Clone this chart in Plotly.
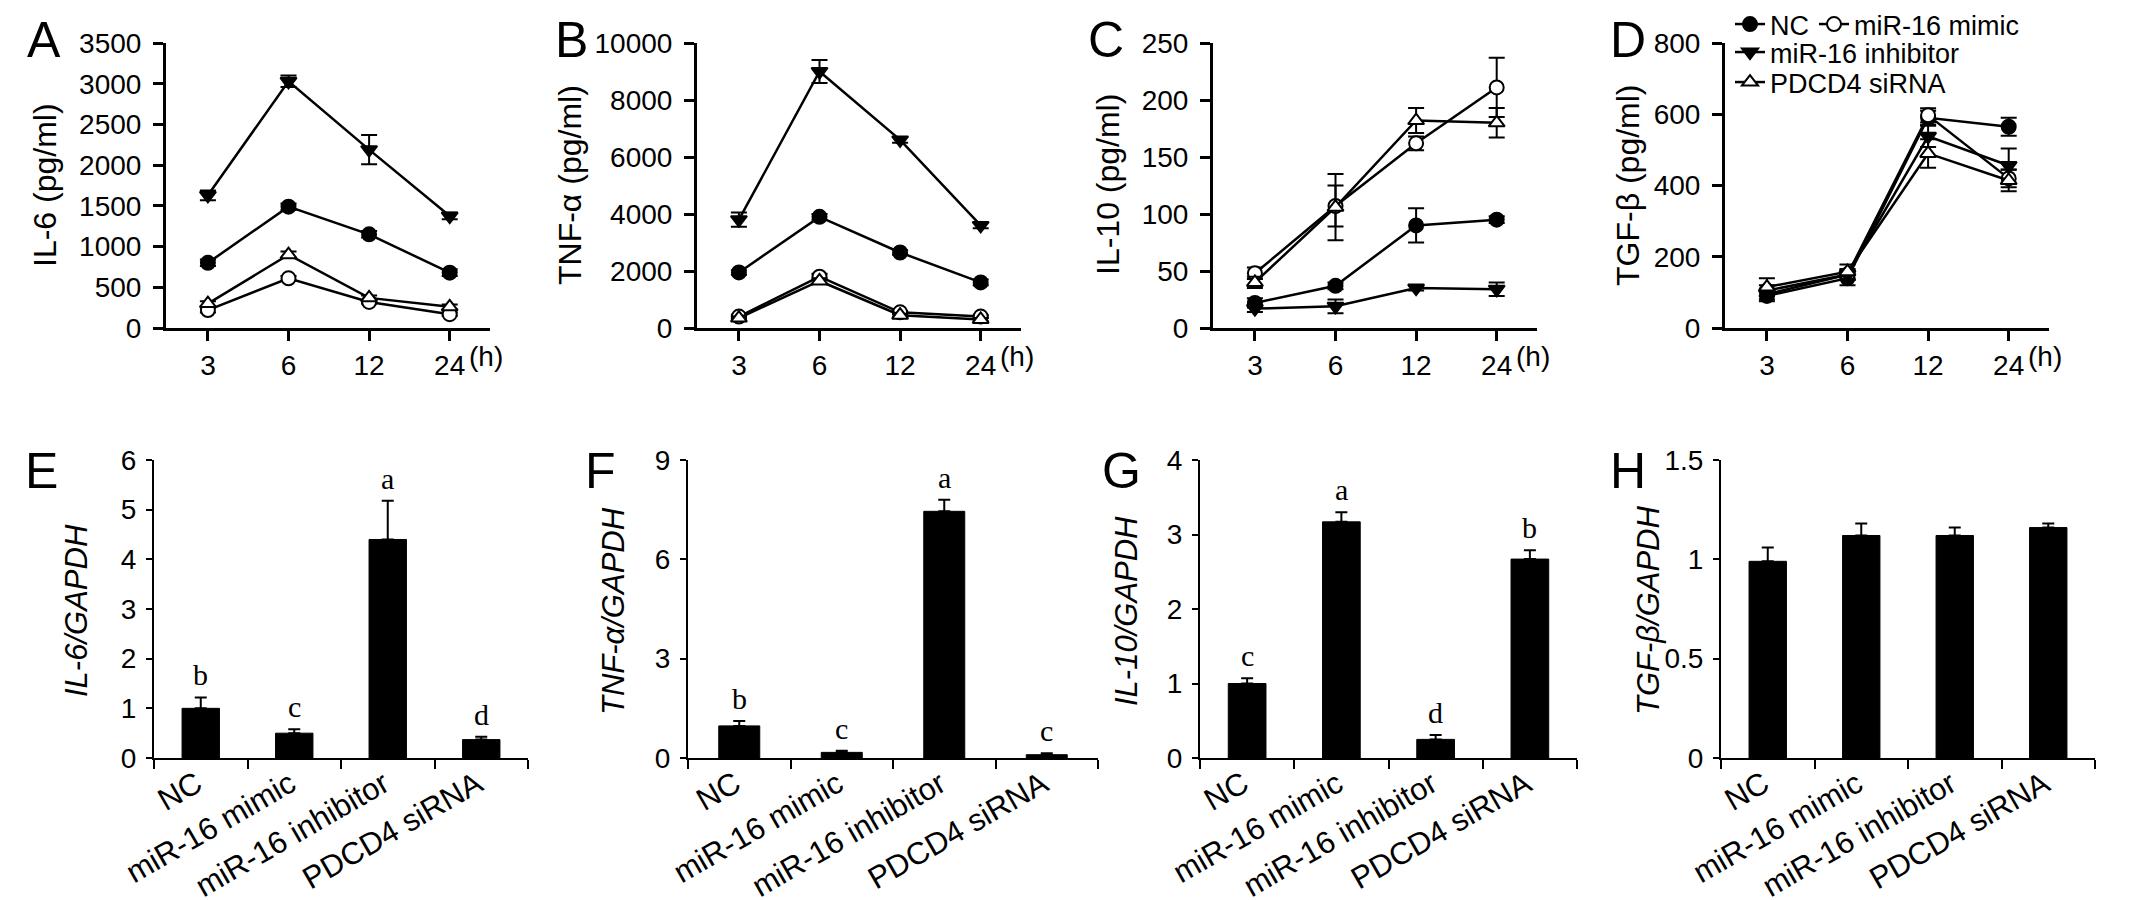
import plotly.graph_objects as go

W, H = 2150, 900
FONT = "Liberation Sans"
SERIF = "Liberation Serif"

time_h = ["3", "6", "12", "24"]
groups = ["NC", "miR-16 mimic", "miR-16 inhibitor", "PDCD4 siRNA"]

# ELISA (pg/ml), mean and sd per time point
il6_nc = [800, 1490, 1150, 680]
il6_nc_sd = [40, 40, 40, 40]
il6_mimic = [220, 610, 320, 170]
il6_mimic_sd = [30, 30, 20, 20]
il6_inhib = [1630, 3030, 2190, 1375]
il6_inhib_sd = [60, 70, 180, 40]
il6_pdcd4 = [300, 900, 370, 260]
il6_pdcd4_sd = [30, 40, 30, 30]

tnf_nc = [1950, 3900, 2650, 1600]
tnf_nc_sd = [80, 100, 80, 100]
tnf_mimic = [400, 1800, 550, 400]
tnf_mimic_sd = [50, 100, 50, 50]
tnf_inhib = [3800, 9000, 6600, 3600]
tnf_inhib_sd = [250, 400, 100, 100]
tnf_pdcd4 = [350, 1650, 450, 300]
tnf_pdcd4_sd = [50, 100, 50, 50]

il10_nc = [22, 37, 90, 95]
il10_nc_sd = [4, 3, 15, 3]
il10_mimic = [48, 107, 162, 211]
il10_mimic_sd = [5, 18, 6, 26]
il10_inhib = [17, 19, 35, 34]
il10_inhib_sd = [3, 6, 2, 6]
il10_pdcd4 = [40, 106, 182, 180]
il10_pdcd4_sd = [5, 29, 11, 13]

tgf_nc = [90, 140, 590, 565]
tgf_nc_sd = [15, 20, 20, 25]
tgf_mimic = [105, 150, 597, 420]
tgf_mimic_sd = [15, 15, 20, 25]
tgf_inhib = [95, 150, 538, 456]
tgf_inhib_sd = [15, 15, 30, 48]
tgf_pdcd4 = [115, 158, 490, 414]
tgf_pdcd4_sd = [25, 20, 40, 30]

# qPCR relative expression (mean, sd, significance letters)
e_vals = [1.0, 0.5, 4.4, 0.37]
e_err = [0.22, 0.08, 0.78, 0.06]
e_letters = ["b", "c", "a", "d"]
f_vals = [0.97, 0.17, 7.45, 0.1]
f_err = [0.15, 0.05, 0.35, 0.04]
f_letters = ["b", "c", "a", "c"]
g_vals = [1.0, 3.17, 0.25, 2.67]
g_err = [0.07, 0.13, 0.06, 0.12]
g_letters = ["c", "a", "d", "b"]
h_vals = [0.99, 1.12, 1.12, 1.16]
h_err = [0.07, 0.06, 0.04, 0.02]
h_letters = ["", "", "", ""]


def px_x(p):
    return p / W


def px_y(p):
    return 1 - p / H


marker_style = {
    "NC": dict(symbol="circle", color="black"),
    "miR-16 mimic": dict(symbol="circle", color="white"),
    "miR-16 inhibitor": dict(symbol="triangle-down", color="black"),
    "PDCD4 siRNA": dict(symbol="triangle-up", color="white"),
}
# legend rows in panel D: NC + mimic share the first row
legend_of = {"NC": "legend", "miR-16 mimic": "legend",
             "miR-16 inhibitor": "legend2", "PDCD4 siRNA": "legend3"}

top_panels = [
    ("A", "IL-6 (pg/ml)", (158, 482), 3500, 500,
     [(il6_nc, il6_nc_sd), (il6_mimic, il6_mimic_sd), (il6_inhib, il6_inhib_sd), (il6_pdcd4, il6_pdcd4_sd)],
     36, 37),
    ("B", "TNF-α (pg/ml)", (689, 1013), 10000, 2000,
     [(tnf_nc, tnf_nc_sd), (tnf_mimic, tnf_mimic_sd), (tnf_inhib, tnf_inhib_sd), (tnf_pdcd4, tnf_pdcd4_sd)],
     563, 562),
    ("C", "IL-10 (pg/ml)", (1205, 1529), 250, 50,
     [(il10_nc, il10_nc_sd), (il10_mimic, il10_mimic_sd), (il10_inhib, il10_inhib_sd), (il10_pdcd4, il10_pdcd4_sd)],
     1098, 1100),
    ("D", "TGF-β (pg/ml)", (1717, 2041), 800, 200,
     [(tgf_nc, tgf_nc_sd), (tgf_mimic, tgf_mimic_sd), (tgf_inhib, tgf_inhib_sd), (tgf_pdcd4, tgf_pdcd4_sd)],
     1620, 1620),
]

bottom_panels = [
    ("E", "<i>IL-6/GAPDH</i>", (146, 520), 6, 1, e_vals, e_err, e_letters, 33, 68),
    ("F", "<i>TNF-α/GAPDH</i>", (680, 1090), 9, 3, f_vals, f_err, f_letters, 592, 605),
    ("G", "<i>IL-10/GAPDH</i>", (1192, 1569), 4, 1, g_vals, g_err, g_letters, 1113, 1118),
    ("H", "<i>TGF-β/GAPDH</i>", (1713, 2087), 1.5, 0.5, h_vals, h_err, h_letters, 1620, 1640),
]


def paper_text(text, x, y, size, angle=0):
    return dict(text=text, x=px_x(x), y=px_y(y), xref="paper", yref="paper",
                xanchor="center", yanchor="middle", textangle=angle, showarrow=False,
                font=dict(family=FONT, size=size, color="black"))


def legend_box(top, orientation):
    return dict(x=px_x(1722), y=px_y(top), xanchor="left", yanchor="top",
                orientation=orientation, font=dict(family=FONT, size=27, color="black"),
                bgcolor="rgba(0,0,0,0)", itemwidth=30, tracegroupgap=0)


fig = go.Figure()
layout = {}
annotations = []

# top row: time courses
for i, (letter, title, (x0, x1), ymax, dt, series, lx, tx) in enumerate(top_panels):
    n = i + 1
    xa = "x" if n == 1 else f"x{n}"
    ya = "y" if n == 1 else f"y{n}"
    for g, (vals, sd) in zip(groups, series):
        st = marker_style[g]
        fig.add_trace(go.Scatter(
            x=time_h, y=vals, xaxis=xa, yaxis=ya, name=g,
            mode="lines+markers",
            line=dict(color="black", width=2.5),
            marker=dict(symbol=st["symbol"], color=st["color"], size=14,
                        line=dict(color="black", width=2)),
            error_y=dict(type="data", array=sd, color="black", thickness=2, width=8),
            showlegend=(n == 1),
            legend=legend_of[g],
        ))
    layout[f"xaxis{'' if n == 1 else n}"] = dict(
        domain=[px_x(x0), px_x(x1)], anchor=ya, type="category",
        range=[-0.52, 3.5], showline=True, linecolor="black", linewidth=3,
        ticks="outside", ticklen=10, tickwidth=3, tickcolor="black",
        tickfont=dict(family=FONT, size=28, color="black"),
        showgrid=False, zeroline=False, automargin=False,
    )
    layout[f"yaxis{'' if n == 1 else n}"] = dict(
        domain=[px_y(320), px_y(35)], anchor=xa, range=[0, ymax], dtick=dt,
        showline=True, linecolor="black", linewidth=3,
        ticks="outside", ticklen=10, tickwidth=3, tickcolor="black",
        tickfont=dict(family=FONT, size=28, color="black"),
        tickformat="d", ticklabelstandoff=6,
        showgrid=False, zeroline=False, automargin=False,
    )
    annotations.append(paper_text(letter, lx, 32, 50))
    annotations.append(paper_text(title, tx, 177, 32, -90))
    annotations.append(dict(text="(h)", x=3.22, y=px_y(348), xref=xa, yref="paper",
                            xanchor="left", yanchor="middle", showarrow=False,
                            font=dict(family=FONT, size=28, color="black")))

# bottom row: qPCR bars
for i, (letter, title, (x0, x1), ymax, dt, vals, err, sig, lx, tx) in enumerate(bottom_panels):
    n = i + 5
    xa, ya = f"x{n}", f"y{n}"
    fig.add_trace(go.Bar(
        x=groups, y=vals, xaxis=xa, yaxis=ya, width=0.4, showlegend=False,
        marker=dict(color="black", line=dict(color="black", width=1)),
        error_y=dict(type="data", array=err, arrayminus=[0] * len(err), symmetric=False,
                     color="black", thickness=2, width=6),
    ))
    for g, v, e, s in zip(groups, vals, err, sig):
        if s:
            annotations.append(dict(text=s, x=g, y=v + e, xref=xa, yref=ya,
                                    xanchor="center", yanchor="bottom",
                                    yshift=4, showarrow=False,
                                    font=dict(family=SERIF, size=30, color="black")))
    layout[f"xaxis{n}"] = dict(
        domain=[px_x(x0), px_x(x1)], anchor=ya, type="category", range=[-0.5, 3.5],
        showline=True, linecolor="black", linewidth=2, tickson="boundaries",
        ticks="outside", ticklen=9, tickwidth=2, tickcolor="black", tickangle=-30,
        tickfont=dict(family=FONT, size=31, color="black"),
        ticklabelshift=-4, ticklabelstandoff=-6,
        showgrid=False, zeroline=False, automargin=False,
    )
    layout[f"yaxis{n}"] = dict(
        domain=[px_y(750), px_y(452)], anchor=xa, range=[0, ymax], dtick=dt,
        showline=True, linecolor="black", linewidth=2,
        ticks="outside", ticklen=6, tickwidth=2, tickcolor="black",
        tickfont=dict(family=FONT, size=28, color="black"),
        ticklabelstandoff=4, showgrid=False, zeroline=False, automargin=False,
    )
    annotations.append(paper_text(letter, lx, 463, 50))
    annotations.append(paper_text(title, tx, 603, 31, -90))

fig.update_layout(
    **layout,
    width=W, height=H,
    margin=dict(l=0, r=0, t=0, b=0, autoexpand=False),
    plot_bgcolor="white", paper_bgcolor="white",
    annotations=annotations,
    legend=legend_box(-8, "h"),
    legend2=legend_box(20, "v"),
    legend3=legend_box(50, "v"),
)

fig.write_html("out.html")
